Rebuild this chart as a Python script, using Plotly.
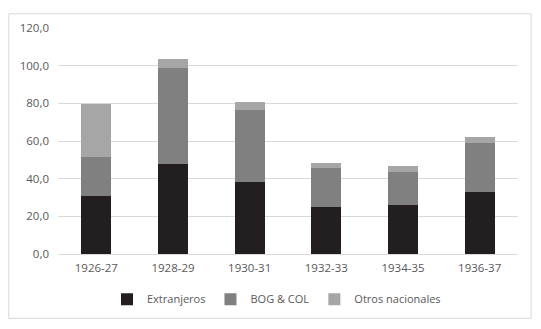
import plotly.graph_objects as go

categories = ["1926-27", "1928-29", "1930-31", "1932-33", "1934-35", "1936-37"]
extranjeros = [30.8, 47.6, 38.2, 24.7, 26.0, 33.0]
bog_col = [20.6, 51.3, 38.3, 20.8, 17.8, 25.9]
otros = [28.4, 4.5, 4.3, 3.0, 2.7, 3.4]

series = [
    ("Extranjeros", extranjeros, "#231f20"),
    ("BOG & COL", bog_col, "#808080"),
    ("Otros nacionales", otros, "#a6a6a6"),
]

fig = go.Figure()
for name, vals, col in series:
    fig.add_trace(go.Bar(x=categories, y=vals, name=name, marker_color=col,
                         marker_line_width=0))

font = dict(family="Open Sans", size=11.5, color="#595959")
fig.update_layout(
    barmode="stack",
    bargap=0.61,
    width=533, height=321,
    margin=dict(l=50, r=23, t=15, b=75),
    paper_bgcolor="white", plot_bgcolor="white",
    separators=",.",
    font=font,
    showlegend=True,
    legend=dict(orientation="h", x=0.475, xanchor="center", y=-0.2, yanchor="middle",
                font=dict(family="Open Sans", size=11, color="#595959"),
                traceorder="normal", itemwidth=30),
    xaxis=dict(showgrid=False, showline=False, ticks="", tickfont=font,
               ticklabelstandoff=5),
    yaxis=dict(range=[0, 120], dtick=20, tickformat=".1f", showgrid=True,
               gridcolor="#d9d9d9", gridwidth=1, zeroline=True, zerolinecolor="#d9d9d9",
               zerolinewidth=1, ticks="", tickfont=font, ticklabelstandoff=8),
    shapes=[dict(type="rect", xref="paper", yref="paper",
                 x0=-0.107, x1=1.0285, y0=-0.285, y1=1.0628,
                 line=dict(color="#d9d9d9", width=1), fillcolor="rgba(0,0,0,0)",
                 layer="below")],
)

fig.write_html("out.html")
